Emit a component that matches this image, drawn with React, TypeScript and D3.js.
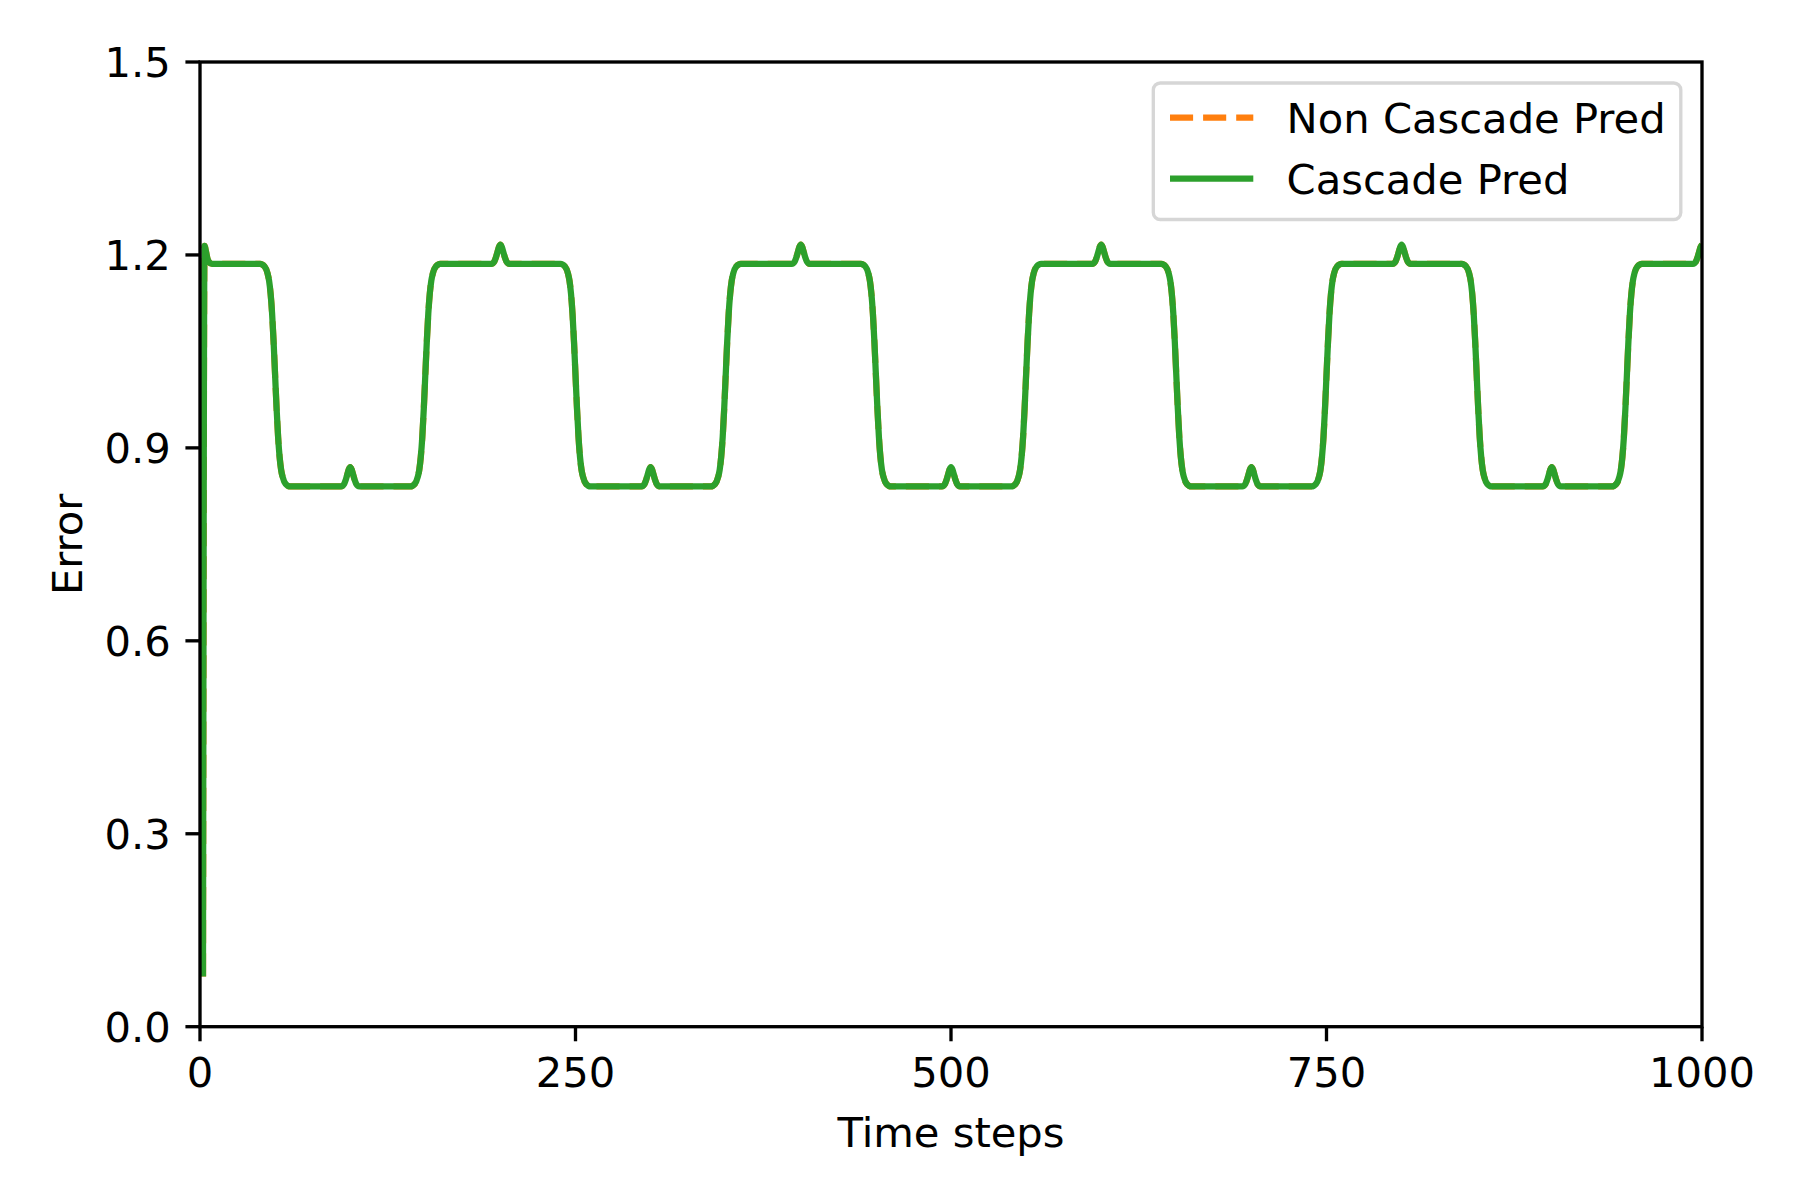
import React, { useRef, useEffect } from 'react';
import * as d3 from 'd3';

// time step of every sample
const timeSteps = [
  2, 3, 4, 5, 6, 8,
  40, 43, 45, 46, 47, 48, 49, 50, 51, 52, 53, 54, 55, 57, 60,
  94, 96, 97, 98, 99, 100, 101, 102, 103, 104, 106,
  140, 143, 145, 146, 147, 148, 149, 150, 151, 152, 153, 154, 155, 157, 160,
  194, 196, 197, 198, 199, 200, 201, 202, 203, 204, 206,
  240, 243, 245, 246, 247, 248, 249, 250, 251, 252, 253, 254, 255, 257, 260,
  294, 296, 297, 298, 299, 300, 301, 302, 303, 304, 306,
  340, 343, 345, 346, 347, 348, 349, 350, 351, 352, 353, 354, 355, 357, 360,
  394, 396, 397, 398, 399, 400, 401, 402, 403, 404, 406,
  440, 443, 445, 446, 447, 448, 449, 450, 451, 452, 453, 454, 455, 457, 460,
  494, 496, 497, 498, 499, 500, 501, 502, 503, 504, 506,
  540, 543, 545, 546, 547, 548, 549, 550, 551, 552, 553, 554, 555, 557, 560,
  594, 596, 597, 598, 599, 600, 601, 602, 603, 604, 606,
  640, 643, 645, 646, 647, 648, 649, 650, 651, 652, 653, 654, 655, 657, 660,
  694, 696, 697, 698, 699, 700, 701, 702, 703, 704, 706,
  740, 743, 745, 746, 747, 748, 749, 750, 751, 752, 753, 754, 755, 757, 760,
  794, 796, 797, 798, 799, 800, 801, 802, 803, 804, 806,
  840, 843, 845, 846, 847, 848, 849, 850, 851, 852, 853, 854, 855, 857, 860,
  894, 896, 897, 898, 899, 900, 901, 902, 903, 904, 906,
  940, 943, 945, 946, 947, 948, 949, 950, 951, 952, 953, 954, 955, 957, 960,
  994, 996, 997, 998, 999, 1000,
];

const cascadeError = [
  0.078, 1.214, 1.205, 1.194, 1.189, 1.186,
  1.186, 1.182, 1.171, 1.160, 1.140, 1.109, 1.065, 1.013, 0.961, 0.917, 0.886, 0.866, 0.855, 0.844, 0.840,
  0.840, 0.844, 0.850, 0.858, 0.866, 0.870, 0.866, 0.858, 0.850, 0.844, 0.840,
  0.840, 0.844, 0.855, 0.866, 0.886, 0.917, 0.961, 1.013, 1.065, 1.109, 1.140, 1.160, 1.171, 1.182, 1.186,
  1.186, 1.190, 1.196, 1.204, 1.212, 1.216, 1.212, 1.204, 1.196, 1.190, 1.186,
  1.186, 1.182, 1.171, 1.160, 1.140, 1.109, 1.065, 1.013, 0.961, 0.917, 0.886, 0.866, 0.855, 0.844, 0.840,
  0.840, 0.844, 0.850, 0.858, 0.866, 0.870, 0.866, 0.858, 0.850, 0.844, 0.840,
  0.840, 0.844, 0.855, 0.866, 0.886, 0.917, 0.961, 1.013, 1.065, 1.109, 1.140, 1.160, 1.171, 1.182, 1.186,
  1.186, 1.190, 1.196, 1.204, 1.212, 1.216, 1.212, 1.204, 1.196, 1.190, 1.186,
  1.186, 1.182, 1.171, 1.160, 1.140, 1.109, 1.065, 1.013, 0.961, 0.917, 0.886, 0.866, 0.855, 0.844, 0.840,
  0.840, 0.844, 0.850, 0.858, 0.866, 0.870, 0.866, 0.858, 0.850, 0.844, 0.840,
  0.840, 0.844, 0.855, 0.866, 0.886, 0.917, 0.961, 1.013, 1.065, 1.109, 1.140, 1.160, 1.171, 1.182, 1.186,
  1.186, 1.190, 1.196, 1.204, 1.212, 1.216, 1.212, 1.204, 1.196, 1.190, 1.186,
  1.186, 1.182, 1.171, 1.160, 1.140, 1.109, 1.065, 1.013, 0.961, 0.917, 0.886, 0.866, 0.855, 0.844, 0.840,
  0.840, 0.844, 0.850, 0.858, 0.866, 0.870, 0.866, 0.858, 0.850, 0.844, 0.840,
  0.840, 0.844, 0.855, 0.866, 0.886, 0.917, 0.961, 1.013, 1.065, 1.109, 1.140, 1.160, 1.171, 1.182, 1.186,
  1.186, 1.190, 1.196, 1.204, 1.212, 1.216, 1.212, 1.204, 1.196, 1.190, 1.186,
  1.186, 1.182, 1.171, 1.160, 1.140, 1.109, 1.065, 1.013, 0.961, 0.917, 0.886, 0.866, 0.855, 0.844, 0.840,
  0.840, 0.844, 0.850, 0.858, 0.866, 0.870, 0.866, 0.858, 0.850, 0.844, 0.840,
  0.840, 0.844, 0.855, 0.866, 0.886, 0.917, 0.961, 1.013, 1.065, 1.109, 1.140, 1.160, 1.171, 1.182, 1.186,
  1.186, 1.190, 1.196, 1.204, 1.212, 1.216,
];

// the non cascade prediction sits exactly under the cascade one
const nonCascadeError = cascadeError.slice();

const xTicks = [0, 250, 500, 750, 1000];
const yTicks = [0.0, 0.3, 0.6, 0.9, 1.2, 1.5];

const seriesNames = ['Non Cascade Pred', 'Cascade Pred'];
const seriesColors = ['#ff7f0e', '#2ca02c'];

export default function App() {
  const svgRef = useRef<SVGSVGElement | null>(null);

  useEffect(() => {
    document.body.style.margin = '0';

    const width = 1800;
    const height = 1200;
    const margin = { top: 62, right: 98, bottom: 173.3, left: 200 };
    const innerW = width - margin.left - margin.right;
    const innerH = height - margin.top - margin.bottom;
    const fontSize = 41.67;
    const lw = 6.25; // 1.5pt at 300dpi
    const axisLw = 3.33;
    const tickLen = 14.58;
    const pad = 14.58;

    const svg = d3.select(svgRef.current);
    svg.selectAll('*').remove();

    const x = d3.scaleLinear().domain([0, 1000]).range([0, innerW]);
    const y = d3.scaleLinear().domain([0, 1.5]).range([innerH, 0]);

    svg.append('defs')
      .append('clipPath')
      .attr('id', 'plot-clip')
      .append('rect')
      .attr('width', innerW)
      .attr('height', innerH);

    const g = svg.append('g').attr('transform', `translate(${margin.left},${margin.top})`);

    const line = d3.line<number>()
      .x((d, i) => x(timeSteps[i]))
      .y(d => y(d))
      .curve(d3.curveMonotoneX);

    const plot = g.append('g').attr('clip-path', 'url(#plot-clip)');

    plot.append('path')
      .datum(nonCascadeError)
      .attr('d', line)
      .attr('fill', 'none')
      .attr('stroke', seriesColors[0])
      .attr('stroke-width', lw)
      .attr('stroke-dasharray', '23.1,10');

    plot.append('path')
      .datum(cascadeError)
      .attr('d', line)
      .attr('fill', 'none')
      .attr('stroke', seriesColors[1])
      .attr('stroke-width', lw)
      .attr('stroke-linejoin', 'round');

    // x ticks
    const xAxis = g.append('g').attr('transform', `translate(0,${innerH})`);
    xAxis.selectAll('line')
      .data(xTicks)
      .enter()
      .append('line')
      .attr('x1', d => x(d))
      .attr('x2', d => x(d))
      .attr('y1', 0)
      .attr('y2', tickLen)
      .attr('stroke', 'black')
      .attr('stroke-width', axisLw);
    xAxis.selectAll('text')
      .data(xTicks)
      .enter()
      .append('text')
      .attr('x', d => x(d))
      .attr('y', tickLen + pad + 30.7)
      .attr('text-anchor', 'middle')
      .text(d => String(d));

    // y ticks
    const yAxis = g.append('g');
    yAxis.selectAll('line')
      .data(yTicks)
      .enter()
      .append('line')
      .attr('x1', -tickLen)
      .attr('x2', 0)
      .attr('y1', d => y(d))
      .attr('y2', d => y(d))
      .attr('stroke', 'black')
      .attr('stroke-width', axisLw);
    yAxis.selectAll('text')
      .data(yTicks)
      .enter()
      .append('text')
      .attr('x', -tickLen - pad)
      .attr('y', d => y(d) + 15.2)
      .attr('text-anchor', 'end')
      .text(d => d.toFixed(1));

    // spines
    g.append('rect')
      .attr('width', innerW)
      .attr('height', innerH)
      .attr('fill', 'none')
      .attr('stroke', 'black')
      .attr('stroke-width', axisLw);

    // axis labels
    svg.append('text')
      .attr('x', margin.left + innerW / 2)
      .attr('y', 1147.3)
      .attr('text-anchor', 'middle')
      .text('Time steps');

    svg.append('text')
      .attr('transform', `translate(82,${margin.top + innerH / 2}) rotate(-90)`)
      .attr('text-anchor', 'middle')
      .text('Error');

    // legend
    const legend = svg.append('g');
    legend.append('rect')
      .attr('x', 1153.3)
      .attr('y', 83)
      .attr('width', 527.5)
      .attr('height', 136.5)
      .attr('rx', 7)
      .attr('fill', 'white')
      .attr('fill-opacity', 0.8)
      .attr('stroke', '#cccccc')
      .attr('stroke-opacity', 0.8)
      .attr('stroke-width', axisLw);

    const rowY = [117.5, 178.5];
    seriesNames.forEach((name, i) => {
      legend.append('line')
        .attr('x1', 1170)
        .attr('x2', 1253.3)
        .attr('y1', rowY[i])
        .attr('y2', rowY[i])
        .attr('stroke', seriesColors[i])
        .attr('stroke-width', lw)
        .attr('stroke-dasharray', i === 0 ? '23.1,10' : null);
      legend.append('text')
        .attr('x', 1286.6)
        .attr('y', rowY[i] + 15.2)
        .text(name);
    });

    svg.selectAll('text')
      .attr('font-family', '"DejaVu Sans", sans-serif')
      .attr('font-size', fontSize)
      .attr('fill', 'black');
  }, []);

  return (
    <div>
      <svg ref={svgRef} width={1800} height={1200} style={{ display: 'block', background: 'white' }} />
    </div>
  );
}
